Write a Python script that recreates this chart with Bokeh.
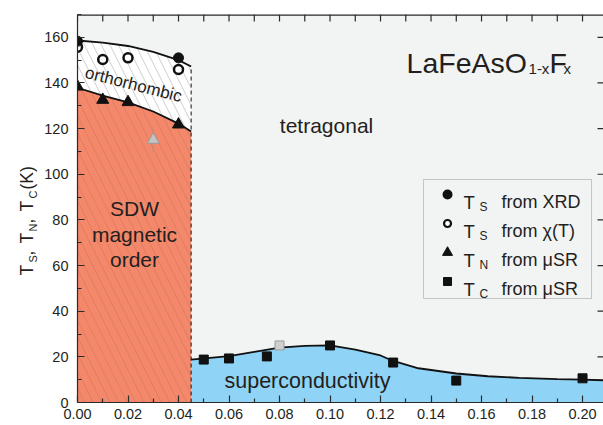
import math
from bokeh.plotting import figure
from bokeh.layouts import row
from bokeh.models import (Range1d, FixedTicker, NumeralTickFormatter,
                          Label, BoxAnnotation)
from bokeh.embed import file_html
from bokeh.resources import INLINE

# ---------------- data ----------------
ts_xrd_x = [0.0, 0.04]
ts_xrd_y = [158.3, 151.0]
ts_chi_x = [0.0, 0.01, 0.02, 0.04]
ts_chi_y = [155.7, 150.3, 151.0, 145.9]
tn_musr_x = [0.0, 0.01, 0.02, 0.04]
tn_musr_y = [138.4, 132.6, 131.6, 121.8]
tn_grey_x = [0.03]
tn_grey_y = [115.1]
tn_grey_err = [5.5]
tc_musr_x = [0.05, 0.06, 0.075, 0.10, 0.125, 0.15, 0.20]
tc_musr_y = [18.8, 19.3, 20.2, 25.0, 17.5, 9.6, 10.6]
tc_grey_x = [0.08]
tc_grey_y = [25.0]
tc_grey_err = [1.5]

ts_curve_x = [0.0, 0.01, 0.02, 0.03, 0.04, 0.045]
ts_curve_y = [158.6, 157.7, 156.2, 153.6, 150.0, 147.2]
tn_curve_x = [0.0, 0.01, 0.02, 0.03, 0.04, 0.045]
tn_curve_y = [137.9, 134.5, 131.5, 127.5, 122.2, 118.7]
tc_curve_x = [0.045, 0.06, 0.07, 0.08, 0.09, 0.10, 0.11, 0.12, 0.125, 0.135,
              0.15, 0.1625, 0.175, 0.19, 0.20, 0.21]
tc_curve_y = [18.8, 20.3, 22.2, 24.0, 24.8, 25.0, 23.2, 20.6, 18.2, 15.0,
              12.7, 11.5, 10.8, 10.2, 10.0, 9.7]
x_boundary = 0.045

x_ticks = [0.0, 0.02, 0.04, 0.06, 0.08, 0.10, 0.12, 0.14, 0.16, 0.18, 0.20]
x_minor = [0.01, 0.03, 0.05, 0.07, 0.09, 0.11, 0.13, 0.15, 0.17, 0.19]
y_ticks = [0, 20, 40, 60, 80, 100, 120, 140, 160]
y_minor = [10, 30, 50, 70, 90, 110, 130, 150, 170]

# ---------------- styling ----------------
FONT = "Liberation Sans"
TXT = "#231f20"
BG = "#f2f3f3"
ORANGE = "#f4886b"
BLUE = "#8fd4f6"
AX = "#2a2a2a"
XMAX = 0.2083
YMAX = 170
PX_X = 2525.0            # pixels per x unit
PX_Y = 388.0 / YMAX      # pixels per y unit
LW = 40                  # width of the y-label strip

# pixel -> data helpers for annotation placement (frame: x 77..603, y 14..402)
def X(px):
    return (px - 77) / PX_X

def Y(py):
    return (402 - py) / PX_Y

p = figure(width=603 - LW, height=425, x_range=Range1d(0, XMAX), y_range=Range1d(0, YMAX),
           output_backend="svg", toolbar_location=None,
           min_border_left=77 - LW, min_border_right=0, min_border_top=14, min_border_bottom=23)
p.background_fill_color = BG
p.border_fill_color = "white"
p.outline_line_color = None
p.xgrid.visible = False
p.ygrid.visible = False

# ---- regions ----
sdw_x = [0.0] + tn_curve_x + [x_boundary]
sdw_y = [0.0] + tn_curve_y + [0.0]
p.patch(sdw_x, sdw_y, fill_color=ORANGE, line_color=None,
        hatch_pattern="\\", hatch_color="#c0664f", hatch_alpha=0.45,
        hatch_scale=17, hatch_weight=0.8)

ort_x = ts_curve_x + tn_curve_x[::-1]
ort_y = ts_curve_y + tn_curve_y[::-1]
p.patch(ort_x, ort_y, fill_color="white", line_color=None,
        hatch_pattern="\\", hatch_color="#8a8a8a", hatch_alpha=0.6,
        hatch_scale=17, hatch_weight=0.7)

sc_x = [x_boundary] + tc_curve_x + [tc_curve_x[-1]]
sc_y = [0.0] + tc_curve_y + [0.0]
p.patch(sc_x, sc_y, fill_color=BLUE, line_color=None)

# dashed boundary
p.segment(x0=[x_boundary], y0=[0], x1=[x_boundary], y1=[ts_curve_y[-1]],
          line_color="#111", line_width=1, line_dash="4 3")

# curves
for cx, cy in ((ts_curve_x, ts_curve_y), (tn_curve_x, tn_curve_y), (tc_curve_x, tc_curve_y)):
    p.line(cx, cy, line_color="#111", line_width=1.8)

# grey points with error bars
p.segment(x0=tn_grey_x, y0=[a - e for a, e in zip(tn_grey_y, tn_grey_err)],
          x1=tn_grey_x, y1=[a + e for a, e in zip(tn_grey_y, tn_grey_err)],
          line_color="#9a9a9a", line_width=1)
p.scatter(tn_grey_x, tn_grey_y, marker="triangle", size=12,
          fill_color="#c4c4c4", line_color="#9a9a9a")
p.segment(x0=tc_grey_x, y0=[a - e for a, e in zip(tc_grey_y, tc_grey_err)],
          x1=tc_grey_x, y1=[a + e for a, e in zip(tc_grey_y, tc_grey_err)],
          line_color="#8a8a8a", line_width=1)
p.scatter(tc_grey_x, tc_grey_y, marker="square", size=9,
          fill_color="#cfcfcf", line_color="#9a9a9a")

# data markers
p.scatter(ts_chi_x, ts_chi_y, marker="circle", size=9, fill_color="white",
          line_color="#111", line_width=2.5)
p.scatter(ts_xrd_x, ts_xrd_y, marker="circle", size=10, fill_color="#111", line_color="#111")
p.scatter(tn_musr_x, tn_musr_y, marker="triangle", size=12, fill_color="#111", line_color="#111")
p.scatter(tc_musr_x, tc_musr_y, marker="square", size=9, fill_color="#111", line_color="#111")

# ---- axes (left / bottom real axes) ----
def style_axis(ax, ticks, minor):
    ax.ticker = FixedTicker(ticks=ticks, minor_ticks=minor)
    ax.major_tick_in = 7
    ax.major_tick_out = 0
    ax.minor_tick_in = 4
    ax.minor_tick_out = 0
    ax.axis_line_color = AX
    ax.major_tick_line_color = AX
    ax.minor_tick_line_color = AX
    ax.axis_line_width = 1.2
    ax.major_tick_line_width = 1.2
    ax.minor_tick_line_width = 1.2
    ax.major_label_text_font = FONT
    ax.major_label_text_color = TXT
    ax.major_label_text_font_size = "14.5px"

style_axis(p.xaxis[0], x_ticks, x_minor)
style_axis(p.yaxis[0], y_ticks, y_minor)
p.xaxis[0].formatter = NumeralTickFormatter(format="0.00")
p.xaxis[0].major_label_standoff = 6
p.yaxis[0].major_label_standoff = 9

# top frame line with inward ticks, right-side inward ticks (no labels)
p.segment(x0=[0], y0=[YMAX], x1=[XMAX], y1=[YMAX], line_color=AX, line_width=2.4)
top_ticks = sorted(x_ticks + x_minor)
p.segment(x0=top_ticks, y0=[YMAX] * len(top_ticks), x1=top_ticks,
          y1=[YMAX - 7 / PX_Y] * len(top_ticks), line_color=AX, line_width=1.2)
p.segment(x0=[XMAX] * len(y_ticks), y0=y_ticks, x1=[XMAX - 6 / PX_X] * len(y_ticks),
          y1=y_ticks, line_color=AX, line_width=1.2)

# ---- texts ----
def lab(fig, x, y, text, size, align="left", baseline="alphabetic", angle=0.0):
    fig.add_layout(Label(x=x, y=y, text=text, text_font=FONT, text_font_size=size,
                         text_color=TXT, text_align=align, text_baseline=baseline,
                         angle=angle))

# title LaFeAsO(1-x)F(x)
lab(p, X(406), Y(62), "LaFeAsO", "28.5px")
lab(p, X(528), Y(68), "1-x", "15px")
lab(p, X(549), Y(62), "F", "28.5px")
lab(p, X(563), Y(68), "x", "15px")

# region labels
lab(p, X(326), Y(125), "tetragonal", "21px", align="center", baseline="middle")
lab(p, X(307), Y(380), "superconductivity", "21.5px", align="center", baseline="middle")
lab(p, X(134), Y(208), "SDW", "21px", align="center", baseline="middle")
lab(p, X(134), Y(234), "magnetic", "21px", align="center", baseline="middle")
lab(p, X(134), Y(259), "order", "21px", align="center", baseline="middle")
lab(p, X(133), Y(84), "orthorhombic", "17px", align="center", baseline="middle", angle=-0.25)

# legend
p.add_layout(BoxAnnotation(left=X(423), right=X(591), top=Y(179), bottom=Y(298),
                           fill_color=None, line_color="#5a5a5a", line_width=1))
leg_rows = [("circle", "#111", 2, "S", "from XRD"),
            ("circle", "white", 2.2, "S", "from \u03c7(T)"),
            ("triangle", "#111", 1, "N", "from \u03bcSR"),
            ("square", "#111", 1, "C", "from \u03bcSR")]
leg_marker_py = [194, 223, 252, 281]
leg_base_py = [201.5, 230.5, 259.5, 288.5]
leg_sizes = [8, 7, 10, 8]
for (mk, fc, lw, sub, rest), mpy, bpy, sz in zip(leg_rows, leg_marker_py, leg_base_py, leg_sizes):
    p.scatter([X(447)], [Y(mpy)], marker=mk, size=sz, fill_color=fc,
              line_color="#111", line_width=lw)
    lab(p, X(463), Y(bpy), "T", "18.5px")
    lab(p, X(479), Y(bpy + 5), sub, "12px")
    lab(p, X(501), Y(bpy), rest, "18px")

# ---- y-axis label strip:  T_S, T_N, T_C (K) ----
lf = figure(width=LW, height=425, x_range=Range1d(0, LW), y_range=Range1d(0, YMAX),
            output_backend="svg", toolbar_location=None,
            x_axis_location=None, y_axis_location=None,
            min_border_left=0, min_border_right=0, min_border_top=14, min_border_bottom=23)
lf.outline_line_color = None
lf.background_fill_color = "white"
lf.border_fill_color = "white"
lf.xgrid.visible = False
lf.ygrid.visible = False
for txt, py, is_sub in (("T", 275, False), ("S", 262, True), (",", 255, False),
                        ("T", 243, False), ("N", 231, True), (",", 223, False),
                        ("T", 211, False), ("C", 198, True), ("(K)", 189, False)):
    lab(lf, 32.5 if is_sub else 26, Y(py), txt, "11px" if is_sub else "17.5px",
        angle=math.pi / 2)

layout = row(lf, p, spacing=0)
open("out.html", "w").write(file_html(layout, INLINE))
